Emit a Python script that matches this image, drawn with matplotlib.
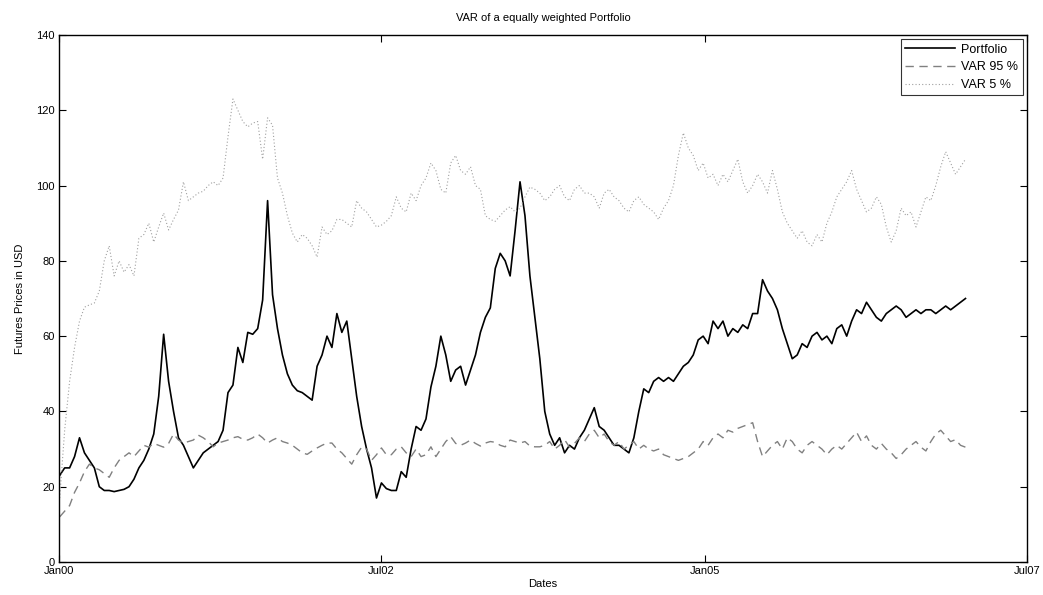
import matplotlib
matplotlib.use("Agg")
import matplotlib.pyplot as plt
import matplotlib.dates as mdates
import pandas as pd
import datetime as dt

# Biweekly observation dates
start_date = "2000-01-03"
n_obs = 184
dates = pd.date_range(start_date, periods=n_obs, freq="14D")

portfolio = [
    23, 25, 25, 28, 33, 29, 27, 25, 20, 19,
    19, 18.7, 19, 19.3, 20, 22, 25, 27, 30, 34,
    44, 60.5, 48, 40, 33, 31, 28, 25, 27, 29,
    30, 31, 32, 35, 45, 47, 57, 53, 61, 60.5,
    62, 69.6, 96, 71, 62, 55, 50, 47, 45.5, 45,
    44, 43, 52, 55, 60, 57, 66, 61, 64, 54,
    44, 36, 30, 25, 17, 21, 19.5, 19, 19, 24,
    22.5, 30, 36, 35, 38, 46.5, 52, 60, 55, 48,
    51, 52, 47, 51, 55, 61, 65, 67.5, 78, 82,
    80, 76, 88, 101, 92, 76, 65, 54, 40, 34,
    31, 33, 29, 31, 30, 33, 35, 38, 41, 36,
    35, 33, 31, 31, 30, 29, 33, 40, 46, 45,
    48, 49, 48, 49, 48, 50, 52, 53, 55, 59,
    60, 58, 64, 62, 64, 60, 62, 61, 63, 62,
    66, 66, 75, 72, 70, 67, 62, 58, 54, 55,
    58, 57, 60, 61, 59, 60, 58, 62, 63, 60,
    64, 67, 66, 69, 67, 65, 64, 66, 67, 68,
    67, 65, 66, 67, 66, 67, 67, 66, 67, 68,
    67, 68, 69, 70,
]

var95 = [
    12, 13.5, 15, 18.5, 21, 24, 26, 25, 24.5, 23.5,
    22.5, 25, 27, 28, 29, 28, 29.5, 31, 30.5, 31.5,
    31, 30.5, 31.5, 34, 32.4, 31.6, 32, 32.4, 33.7, 33,
    32, 30.6, 31.6, 32, 32.4, 33, 33.3, 32.6, 32.4, 33,
    34, 33, 31.6, 32.4, 33, 32, 31.6, 31, 30, 29,
    28.6, 29.5, 30.3, 31, 31.6, 31.6, 30, 29, 27.5, 26,
    28.5, 30.5, 30, 27, 28.5, 30.3, 28.5, 28.5, 30, 30.6,
    29, 28, 30, 28, 28.5, 30.6, 28, 30, 32, 33.3,
    31.5, 31, 31.6, 32.4, 31.5, 30.8, 31.6, 32, 31.8, 31,
    30.6, 32.4, 32, 31.6, 32, 30.8, 30.6, 30.6, 31, 32,
    30, 31, 32.5, 30.5, 31.5, 33, 32, 34, 35, 33,
    34, 32, 31, 32, 30, 31, 32, 30, 31, 30,
    29.5, 30, 28.5, 28, 27.5, 27, 27.5, 28, 29, 30,
    32, 31, 33, 34, 33, 35, 34.5, 35.5, 36, 36.5,
    37, 32, 28, 29.5, 31, 32, 30, 33, 32, 30,
    29, 31, 32, 31, 30, 28.5, 30, 31, 30, 31.5,
    33, 34.5, 32, 33.5, 31, 30, 31.5, 30, 29, 27.5,
    28.5, 30, 31, 32, 30.5, 29.5, 32, 34, 35, 33.5,
    32, 32.5, 31, 30.5,
]

var5 = [
    17, 35, 48, 57, 64, 67.7, 68.3, 68.8, 72, 80,
    84, 76, 80, 77, 79, 76, 86, 87, 90, 85,
    89, 92.7, 88.2, 91, 93.5, 101, 96, 97, 98, 98.5,
    100, 101, 100, 102, 113, 123, 120, 117, 115.6, 116.6,
    117, 107, 118, 116, 102, 98, 92, 87.4, 85, 87,
    86, 84, 81, 89, 87, 88, 91, 91, 90, 89,
    96, 94, 93, 91, 89, 89.5, 90.5, 92, 97, 94,
    93, 98, 96, 100, 102, 106, 104, 99, 98, 106,
    108, 104, 103, 105, 100, 99, 92, 91, 90.5, 92,
    93.5, 94.4, 93, 94, 97, 99.6, 99, 98, 96, 97,
    99, 100, 97, 96, 99, 100, 98, 98, 97, 94,
    98, 99, 97, 96, 94, 93, 96, 97, 95, 94,
    93, 91, 94, 96, 100, 108, 114, 110, 108, 104,
    106, 102, 103, 100, 103, 101, 104, 107, 101, 98,
    100, 103, 101, 98, 104, 99, 93, 90, 88, 86,
    88, 85, 84, 87, 85, 90, 93, 97, 99, 101,
    104, 99, 96, 93, 94, 97, 95, 89, 85, 88,
    94, 92, 93, 89, 93, 97, 96, 100, 105, 109,
    106, 103, 105, 107,
]

x_ticks = ["2000-01-01", "2002-07-01", "2005-01-01", "2007-07-01"]
y_ticks = [0, 20, 40, 60, 80, 100, 120, 140]

plt.rcParams["font.family"] = ["Liberation Sans", "DejaVu Sans"]
plt.rcParams["font.size"] = 8

fig = plt.figure(figsize=(10.43, 5.95), dpi=100)
ax = fig.add_axes([59 / 1043, 33 / 595, 968 / 1043, 527 / 595])

ax.plot(dates, portfolio, color="black", lw=1.2, label="Portfolio")
ax.plot(dates, var95, color="#808080", lw=1.0, ls=(0, (6, 4)), label="VAR 95 %")
ax.plot(dates, var5, color="#a0a0a0", lw=0.8, ls=(0, (1, 2)), label="VAR 5 %")

ax.set_xlim(dt.datetime(2000, 1, 1), dt.datetime(2007, 7, 1))
ax.set_ylim(0, 140)
ax.set_xticks([pd.Timestamp(t) for t in x_ticks])
ax.xaxis.set_major_formatter(mdates.DateFormatter("%b%y"))
ax.set_yticks(y_ticks)
ax.tick_params(direction="in", length=5, top=True, right=True, labelsize=8, pad=3)
for sp in ax.spines.values():
    sp.set_linewidth(1.0)

ax.set_title("VAR of a equally weighted Portfolio", fontsize=8, pad=10)
ax.set_xlabel("Dates", fontsize=8, labelpad=2)
ax.set_ylabel("Futures Prices in USD", fontsize=8, labelpad=8)

leg = ax.legend(loc="upper right", fontsize=9, handlelength=4.0, frameon=True,
                fancybox=False, edgecolor="black", borderaxespad=0.35,
                labelspacing=0.45, borderpad=0.35, handletextpad=0.5)
leg.get_frame().set_linewidth(0.8)

fig.savefig("out.png", dpi=100)
